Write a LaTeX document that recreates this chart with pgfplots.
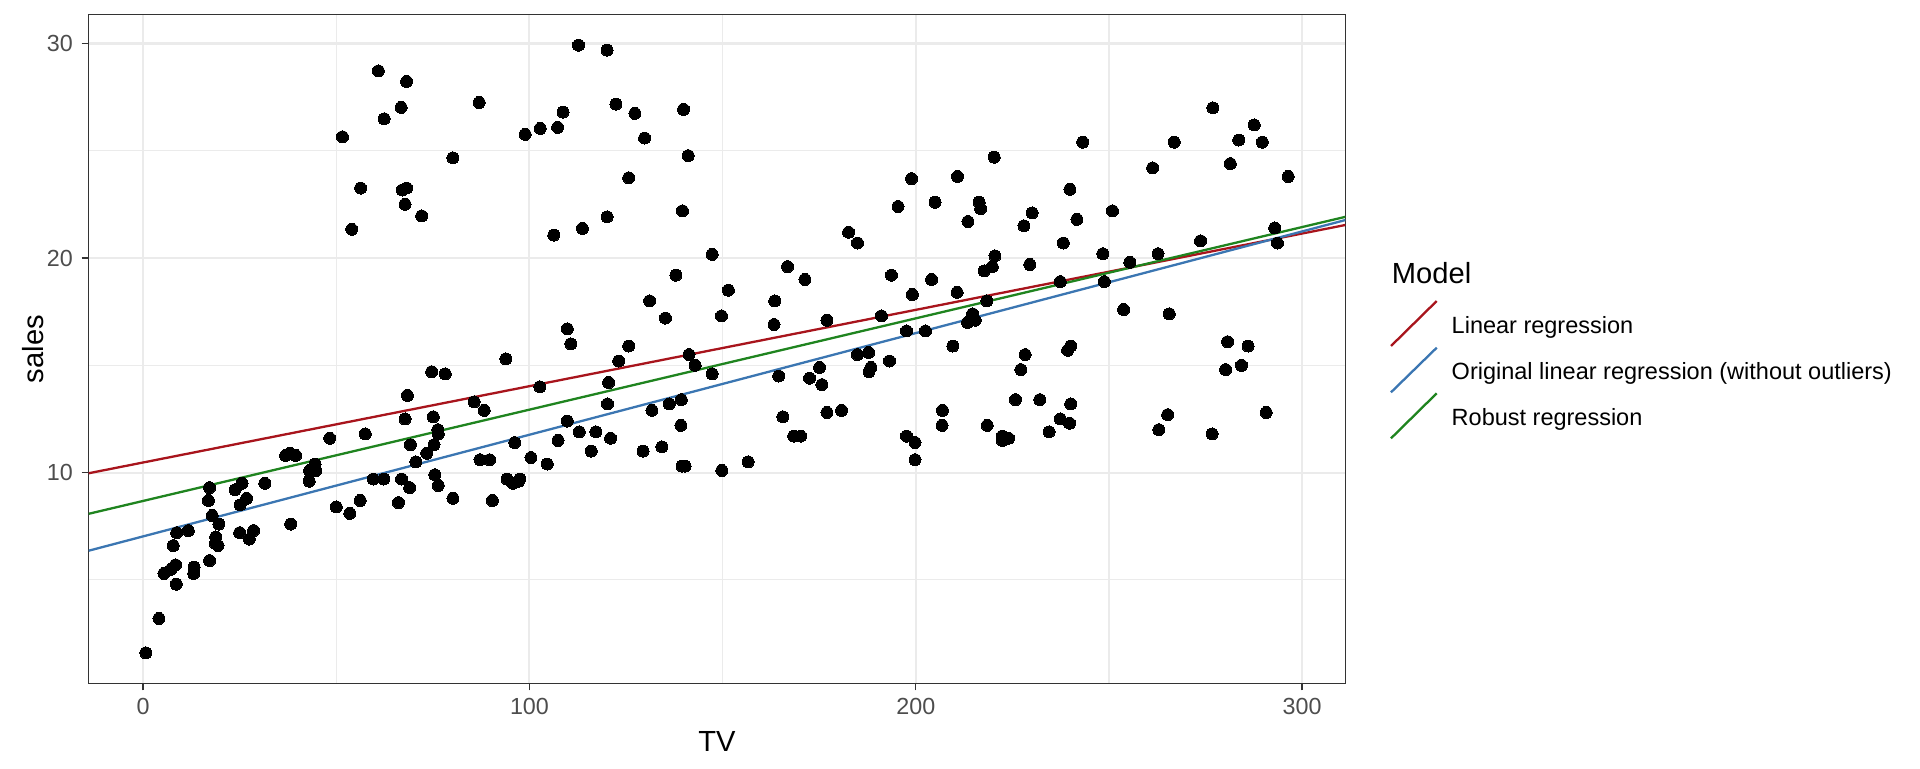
\documentclass[border=0pt]{standalone}
\usepackage{fontspec}
\setmainfont{Liberation Sans}
\usepackage{pgfplots}
\pgfplotsset{compat=1.18}
\definecolor{gridc}{HTML}{EBEBEB}
\definecolor{borderc}{HTML}{333333}
\definecolor{tickc}{HTML}{4D4D4D}
\definecolor{lmred}{HTML}{A8141C}
\definecolor{lmblue}{HTML}{3B76B2}
\definecolor{lmgreen}{HTML}{1F841F}
\newcommand{\ticksize}{\fontsize{11.65}{13}\selectfont}
\newcommand{\legsize}{\fontsize{11.75}{13}\selectfont}
\newcommand{\titlesize}{\fontsize{14.56}{16}\selectfont}
\begin{document}
\begin{tikzpicture}
\path[use as bounding box] (-44.35pt,-42.35pt) rectangle (915.65pt,341.65pt);
\begin{axis}[
  scale only axis,
  width=628.35pt, height=334.3pt,
  xmin=-14.08, xmax=311.2, ymin=0.18, ymax=31.34,
  axis line style={draw=borderc, line width=0.65pt},
  xtick={0,100,200,300}, ytick={10,20,30},
  minor xtick={50,150,250}, minor ytick={5,15,25},
  grid=both,
  major grid style={draw=gridc, line width=1.05pt},
  minor grid style={draw=gridc, line width=0.55pt},
  tick align=outside, tick pos=left,
  major tick length=3.5pt, minor tick length=0pt,
  tick style={draw=borderc, line width=0.65pt},
  /pgf/number format/assume math mode=true,
  ticklabel style={font=\ticksize, text=tickc, inner sep=0pt},
  xticklabel style={anchor=north, yshift=-3.85pt},
  yticklabel style={anchor=east, xshift=-4.2pt},
  every axis x label/.style={at={(axis description cs:0.5,0)}, yshift=-28.85pt, anchor=center, font=\titlesize},
  every axis y label/.style={at={(axis description cs:0,0.5)}, xshift=-27.85pt, rotate=90, anchor=center, font=\titlesize},
  xlabel={TV}, ylabel={sales},
  clip=true,
]
\addplot[lmred, line width=1.15pt] coordinates {(-14.08,9.97) (311.2,21.54)};
\addplot[lmblue, line width=1.15pt] coordinates {(-14.08,6.36) (311.2,21.77)};
\addplot[lmgreen, line width=1.15pt] coordinates {(-14.08,8.08) (311.2,21.92)};
\addplot[only marks, mark=*, mark size=3pt, mark options={fill=black, draw=black, line width=0pt}] table {
x y
230.1 22.1
44.5 10.4
17.2 9.3
151.5 18.5
180.8 12.9
8.7 7.2
57.5 11.8
120.2 13.2
8.6 4.8
199.8 10.6
66.1 8.6
214.7 17.4
23.8 9.2
97.5 9.7
204.1 19
195.4 22.4
67.8 12.5
281.4 24.4
69.2 11.3
147.3 14.6
218.4 18
237.4 12.5
13.2 5.6
228.3 15.5
62.3 9.7
262.9 12
142.9 15
240.1 15.9
248.8 18.9
70.6 10.5
292.9 21.4
112.9 11.9
97.2 9.6
265.6 17.4
95.7 9.5
290.7 12.8
266.9 25.4
74.7 14.7
43.1 10.1
228 21.5
202.5 16.6
177 17.1
293.6 20.7
206.9 12.9
25.1 8.5
175.1 14.9
89.7 10.6
239.9 23.2
227.2 14.8
66.9 9.7
199.8 11.4
100.4 10.7
216.4 22.6
182.6 21.2
262.7 20.2
198.9 23.7
7.3 5.5
136.2 13.2
210.8 23.8
210.7 18.4
53.5 8.1
261.3 24.2
239.3 15.7
102.7 14
131.1 18
69 9.3
31.5 9.5
139.3 13.4
237.4 18.9
216.8 22.3
199.1 18.3
109.8 12.4
26.8 8.8
129.4 11
213.4 17
16.9 8.7
27.5 6.9
120.5 14.2
5.4 5.3
116 11
76.4 11.8
239.8 12.3
75.3 11.3
68.4 13.6
213.5 21.7
193.2 15.2
76.3 12
110.7 16
88.3 12.9
109.8 16.7
134.3 11.2
28.6 7.3
217.7 19.4
250.9 22.2
107.4 11.5
163.3 16.9
197.6 11.7
184.9 15.5
289.7 25.4
135.2 17.2
222.4 11.7
296.4 23.8
280.2 14.8
187.9 14.7
238.2 20.7
137.9 19.2
25 7.2
90.4 8.7
13.1 5.3
255.4 19.8
225.8 13.4
241.7 21.8
175.7 14.1
209.6 15.9
78.2 14.6
75.1 12.6
139.2 12.2
76.4 9.4
125.7 15.9
19.4 6.6
141.3 15.5
18.8 7
224 11.6
123.1 15.2
229.5 19.7
87.2 10.6
7.8 6.6
80.2 8.8
220.3 24.7
59.6 9.7
0.7 1.6
265.2 12.7
8.4 5.7
219.8 19.6
36.9 10.8
48.3 11.6
25.6 9.5
273.7 20.8
43 9.6
184.9 20.7
73.4 10.9
193.7 19.2
220.5 20.1
104.6 10.4
96.2 11.4
140.3 10.3
240.1 13.2
243.2 25.4
38 10.9
44.7 10.1
280.7 16.1
121 11.6
197.6 16.6
171.3 19
187.8 15.6
4.1 3.2
93.9 15.3
149.8 10.1
11.7 7.3
131.7 12.9
172.5 14.4
85.7 13.3
188.4 14.9
163.5 18
117.2 11.9
234.5 11.9
17.9 8
206.8 12.2
215.4 17.1
284.3 15
50 8.4
164.5 14.5
19.6 7.6
168.4 11.7
222.4 11.5
276.9 27
248.4 20.2
170.2 11.7
276.7 11.8
165.6 12.6
156.6 10.5
218.5 12.2
56.2 8.7
287.6 26.2
253.8 17.6
205 22.6
139.5 10.3
191.1 17.3
286 15.9
18.7 6.7
39.5 10.8
75.5 9.9
17.2 5.9
166.8 19.6
149.7 17.3
38.2 7.6
94.2 9.7
177 12.8
283.6 25.5
232.1 13.4
60.9 28.72
68.2 28.23
66.8 27.02
62.4 26.49
51.6 25.65
56.3 23.26
67.1 23.17
68.2 23.26
67.8 22.50
72.1 21.96
54.0 21.34
112.7 29.92
120.1 29.69
87.0 27.25
122.4 27.17
127.3 26.74
108.7 26.80
102.8 26.04
107.3 26.09
98.9 25.76
80.2 24.67
125.7 23.74
120.1 21.92
113.7 21.38
106.3 21.07
139.9 26.93
129.8 25.59
141.1 24.77
139.6 22.2
147.3 20.17
};
\end{axis}
% legend
\node[anchor=base west, inner sep=0pt, font=\titlesize] at (651.4pt,200.0pt) {Model};
\draw[lmred, line width=1.15pt] (651.15pt,168.65pt) -- (674.0pt,191.15pt);
\draw[lmblue, line width=1.15pt] (651.15pt,145.5pt) -- (674.0pt,167.8pt);
\draw[lmgreen, line width=1.15pt] (651.15pt,122.5pt) -- (674.0pt,145.0pt);
\node[anchor=base west, inner sep=0pt, font=\legsize] at (681.3pt,175.0pt) {Linear regression};
\node[anchor=base west, inner sep=0pt, font=\legsize] at (681.3pt,152.15pt) {Original linear regression (without outliers)};
\node[anchor=base west, inner sep=0pt, font=\legsize] at (681.3pt,129.15pt) {Robust regression};
\end{tikzpicture}
\end{document}
